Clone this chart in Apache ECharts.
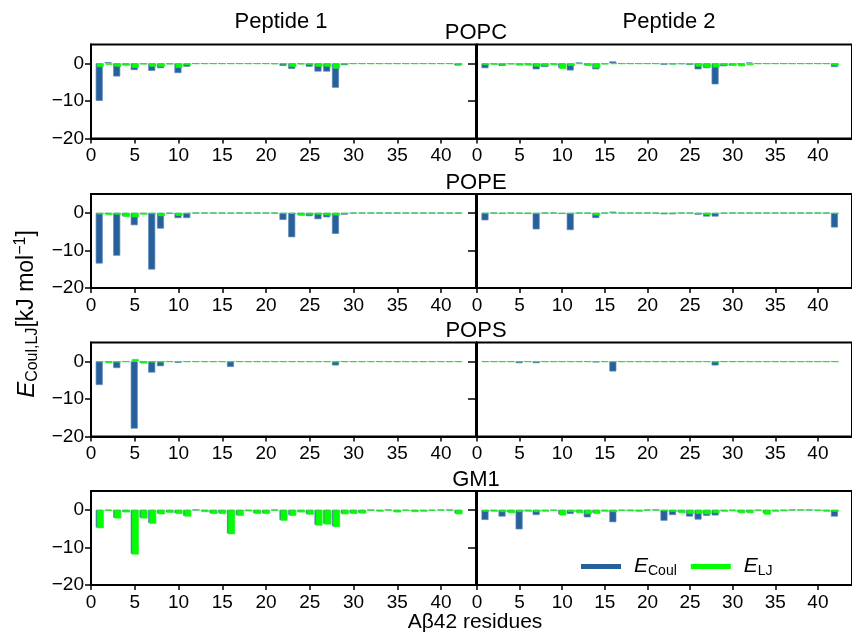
<!DOCTYPE html>
<html><head><meta charset="utf-8">
<script src="https://cdn.jsdelivr.net/npm/echarts@6/dist/echarts.min.js"></script>
<style>html,body{margin:0;padding:0;background:#fff}#c{width:852px;height:639px}</style>
</head><body><div id="c"></div>
<script>
const residues = [1,2,3,4,5,6,7,8,9,10,11,12,13,14,15,16,17,18,19,20,21,22,23,24,25,26,27,28,29,30,31,32,33,34,35,36,37,38,39,40,41,42];
const xTicks = [0,5,10,15,20,25,30,35,40];
const yTicks = [-20,-10,0];
const membranes = ['POPC','POPE','POPS','GM1'];
const peptides = ['Peptide 1','Peptide 2'];
const seriesNames = ['Coul','LJ'];

const popcP1Coul = [-10.0,0.3,-3.5,-0.5,-1.8,-0.2,-2.0,-1.3,-0.2,-2.6,-0.9,-0.1,-0.1,-0.1,-0.1,-0.1,-0.1,-0.1,-0.1,-0.1,-0.2,-0.7,-1.5,-0.2,-0.9,-2.2,-2.2,-6.5,-0.5,-0.1,-0.1,-0.1,-0.1,-0.1,-0.1,-0.1,-0.1,-0.1,-0.1,-0.1,-0.1,-0.6];
const popcP1LJ   = [-1.0,-0.4,-0.9,-0.6,-1.2,-0.3,-0.9,-0.9,-0.3,-1.2,-0.5,-0.2,-0.2,-0.2,-0.2,-0.2,-0.2,-0.2,-0.2,-0.2,-0.2,-0.3,-1.0,-0.3,-0.4,-0.9,-0.9,-1.4,-0.3,-0.2,-0.2,-0.2,-0.2,-0.2,-0.2,-0.2,-0.2,-0.2,-0.2,-0.2,-0.2,-0.4];
const popcP2Coul = [-1.3,-0.2,-0.7,-0.2,-0.4,-0.3,-1.6,-1.0,-0.2,-1.2,-1.9,0.2,-0.5,-1.6,-0.2,0.5,-0.1,-0.1,-0.1,-0.1,-0.1,-0.4,-0.3,-0.2,-0.4,-1.6,-1.3,-5.6,-0.8,-0.6,-0.3,0.2,-0.1,-0.1,-0.1,-0.1,-0.1,-0.1,-0.1,-0.1,-0.1,-1.0];
const popcP2LJ   = [-0.5,-0.4,-0.4,-0.3,-0.6,-0.6,-0.9,-0.7,-0.5,-1.5,-0.7,-0.2,-0.7,-1.3,-0.3,-0.2,-0.2,-0.2,-0.2,-0.2,-0.2,-0.2,-0.3,-0.2,-0.3,-0.9,-1.1,-1.1,-0.6,-0.6,-0.8,-0.5,-0.2,-0.2,-0.2,-0.2,-0.2,-0.2,-0.2,-0.2,-0.2,-0.6];
const popeP1Coul = [-13.5,-0.3,-11.4,-0.9,-3.3,-0.3,-15.1,-4.2,-0.2,-1.4,-1.4,-0.1,-0.1,-0.1,-0.1,-0.2,-0.1,-0.1,-0.1,-0.1,-0.1,-1.9,-6.5,-0.5,-0.9,-1.7,-1.2,-5.6,-0.5,-0.1,-0.1,-0.1,-0.1,-0.1,-0.1,-0.1,-0.1,-0.1,-0.1,-0.1,-0.1,-0.1];
const popeP1LJ   = [-0.4,-0.6,-0.5,-1.1,-1.2,-0.5,-0.3,-0.9,-0.3,-0.8,-0.3,-0.2,-0.2,-0.2,-0.2,-0.2,-0.2,-0.2,-0.2,-0.2,-0.2,-0.3,-0.3,-0.8,-0.5,-0.5,-0.7,-0.7,-0.3,-0.2,-0.2,-0.2,-0.2,-0.2,-0.2,-0.2,-0.2,-0.2,-0.2,-0.2,-0.2,-0.2];
const popeP2Coul = [-2.0,-0.1,-0.3,-0.1,-0.2,-0.3,-4.4,-0.1,-0.1,-0.3,-4.6,-0.1,-0.2,-1.4,-0.1,0.3,-0.1,-0.1,-0.1,-0.1,-0.1,-0.4,-0.4,-0.1,-0.1,-0.5,-1.0,-1.0,-0.2,-0.1,-0.1,-0.1,-0.1,-0.1,-0.1,-0.1,-0.1,-0.1,-0.1,-0.1,-0.1,-3.9];
const popeP2LJ   = [-0.2,-0.2,-0.2,-0.2,-0.2,-0.2,-0.3,-0.2,-0.2,-0.3,-0.3,-0.2,-0.2,-0.7,-0.2,-0.2,-0.2,-0.2,-0.2,-0.2,-0.2,-0.2,-0.2,-0.2,-0.2,-0.3,-0.6,-0.3,-0.2,-0.2,-0.2,-0.2,-0.2,-0.2,-0.2,-0.2,-0.2,-0.2,-0.2,-0.2,-0.2,-0.3];
const popsP1Coul = [-6.3,-0.2,-1.8,-0.1,-17.9,-0.4,-3.0,-1.3,-0.1,-0.4,-0.1,-0.1,-0.1,-0.1,-0.1,-1.5,-0.1,-0.1,-0.1,-0.1,-0.1,-0.1,-0.1,-0.1,-0.1,-0.1,-0.1,-1.1,-0.1,-0.1,-0.1,-0.1,-0.1,-0.1,-0.1,-0.1,-0.1,-0.1,-0.1,-0.1,-0.1,-0.1];
const popsP1LJ   = [-0.2,-0.5,-0.3,-0.2,0.6,-0.6,-0.3,-0.3,-0.2,-0.2,-0.2,-0.2,-0.2,-0.2,-0.2,-0.2,-0.2,-0.2,-0.2,-0.2,-0.2,-0.2,-0.2,-0.2,-0.2,-0.2,-0.2,-0.3,-0.2,-0.2,-0.2,-0.2,-0.2,-0.2,-0.2,-0.2,-0.2,-0.2,-0.2,-0.2,-0.2,-0.2];
const popsP2Coul = [-0.1,-0.1,-0.1,-0.1,-0.5,-0.1,-0.5,-0.1,-0.1,-0.1,-0.1,-0.1,-0.1,-0.3,-0.1,-2.7,-0.1,-0.1,-0.1,-0.1,-0.1,-0.1,-0.1,-0.1,-0.1,-0.1,-0.1,-1.1,-0.1,-0.1,-0.1,-0.1,-0.1,-0.1,-0.1,-0.1,-0.1,-0.1,-0.1,-0.1,-0.1,-0.1];
const popsP2LJ   = [-0.2,-0.2,-0.2,-0.2,-0.2,-0.2,-0.2,-0.2,-0.2,-0.2,-0.2,-0.2,-0.2,-0.2,-0.2,-0.2,-0.2,-0.2,-0.2,-0.2,-0.2,-0.2,-0.2,-0.2,-0.2,-0.2,-0.2,-0.3,-0.2,-0.2,-0.2,-0.2,-0.2,-0.2,-0.2,-0.2,-0.2,-0.2,-0.2,-0.2,-0.2,-0.2];
const gm1P1Coul  = [-4.7,-0.2,-2.1,-0.5,-11.7,-2.1,-3.5,-1.0,-0.6,-0.9,-1.6,-0.1,-0.4,-0.9,-0.9,-6.3,-1.4,-0.3,-0.9,-0.9,-0.1,-2.7,-1.4,-0.5,-1.1,-4.0,-3.7,-4.4,-1.0,-0.9,-0.8,-0.1,-0.3,-0.1,-0.5,-0.2,-0.4,-0.3,-0.2,-0.1,-0.1,-1.0];
const gm1P1LJ    = [-4.9,-0.3,-2.3,-0.7,-11.9,-2.3,-3.7,-1.2,-0.8,-1.1,-1.8,-0.1,-0.6,-1.1,-1.1,-6.5,-1.6,-0.4,-1.1,-1.1,-0.2,-2.9,-1.6,-0.7,-1.3,-4.2,-3.9,-4.6,-1.2,-1.1,-1.0,-0.2,-0.5,-0.2,-0.7,-0.3,-0.6,-0.5,-0.3,-0.2,-0.2,-1.2];
const gm1P2Coul  = [-2.7,-0.3,-1.8,-0.6,-5.2,-0.3,-1.4,-0.3,-0.2,-1.2,-1.1,-0.5,-2.0,-0.8,-0.3,-3.3,-0.2,-0.2,-0.3,-0.1,-0.1,-2.9,-1.4,-0.6,-1.8,-2.6,-1.6,-1.5,-0.3,-0.2,-0.6,-0.6,-0.2,-0.9,-0.3,-0.2,-0.1,-0.1,-0.1,-0.2,-0.3,-1.8];
const gm1P2LJ    = [-0.5,-0.5,-0.6,-0.9,-0.6,-0.5,-0.6,-0.5,-0.3,-1.5,-0.6,-0.9,-1.2,-1.1,-0.5,-0.6,-0.3,-0.4,-0.5,-0.2,-0.1,-0.4,-0.5,-0.9,-1.1,-1.1,-1.2,-0.9,-0.5,-0.4,-0.9,-0.9,-0.3,-1.3,-0.5,-0.4,-0.1,-0.1,-0.1,-0.3,-0.5,-0.5];

const panelData = [
  [[popcP1Coul, popcP1LJ], [popcP2Coul, popcP2LJ]],
  [[popeP1Coul, popeP1LJ], [popeP2Coul, popeP2LJ]],
  [[popsP1Coul, popsP1LJ], [popsP2Coul, popsP2LJ]],
  [[gm1P1Coul, gm1P1LJ], [gm1P2Coul, gm1P2LJ]]
];

const FONT = '"Liberation Sans", Arial, Helvetica, sans-serif';
const BLUE = '#26619c';
const GREEN = '#00ff00';
const rowTops = [44.5, 194, 342.5, 491];
const rowH = 94;
const colLefts = [91, 477];
const colW = 385;

const grid = [], xAxis = [], yAxis = [], series = [];
let idx = 0;
for (let r = 0; r < 4; r++) {
  for (let c = 0; c < 2; c++) {
    grid.push({left: colLefts[c], top: rowTops[r], width: colW, height: rowH,
      show: true, borderColor: '#000', borderWidth: 2, backgroundColor: 'transparent'});
    xAxis.push({type: 'value', gridIndex: idx, min: 0, max: 44,
      axisLine: {show: true, onZero: false, lineStyle: {color: '#000', width: 2}},
      axisTick: {show: true, length: 5, inside: false, customValues: xTicks, lineStyle: {color: '#000', width: 1.5}},
      axisLabel: {show: true, customValues: xTicks, fontSize: 19, fontFamily: FONT, color: '#000', margin: 8},
      splitLine: {show: false}});
    yAxis.push({type: 'value', gridIndex: idx, min: -20, max: 5,
      axisLine: {show: true, onZero: false, lineStyle: {color: '#000', width: 2}},
      axisTick: {show: true, length: c === 0 ? 6 : 9, inside: false, customValues: yTicks, lineStyle: {color: '#000', width: 1.5}},
      axisLabel: {show: c === 0, customValues: yTicks, fontSize: 19, fontFamily: FONT, color: '#000', margin: 7,
        formatter: v => String(v).replace('-', '\u2212')},
      splitLine: {show: false}});
    const pair = panelData[r][c];
    for (let s = 0; s < 2; s++) {
      const col = s === 0 ? BLUE : GREEN;
      series.push({type: 'bar', name: seriesNames[s], xAxisIndex: idx, yAxisIndex: idx,
        barWidth: 7, barGap: '-85%',
        itemStyle: {color: col, borderColor: s === 0 ? '#5b86b5' : '#22ee22', borderWidth: 0.7},
        data: residues.map((res, k) => [res, pair[s][k]])});
    }
    idx++;
  }
}

const graphic = [];
const peptideX = [281, 669];
peptides.forEach((p, i) => graphic.push({type: 'text', x: peptideX[i], y: 22,
  style: {text: p, font: '22px ' + FONT, fill: '#000', align: 'center', verticalAlign: 'middle', textAlign: 'center', textVerticalAlign: 'middle'}}));
membranes.forEach((m, i) => graphic.push({type: 'text', x: 476, y: rowTops[i] - 11.5,
  style: {text: m, font: '22px ' + FONT, fill: '#000', align: 'center', verticalAlign: 'middle', textAlign: 'center', textVerticalAlign: 'middle'}}));
graphic.push({type: 'text', x: 475, y: 622,
  style: {text: 'A\u03b242 residues', font: '21px ' + FONT, fill: '#000', align: 'center', verticalAlign: 'middle', textAlign: 'center', textVerticalAlign: 'middle'}});
graphic.push({type: 'text', x: 27, y: 314, rotation: Math.PI / 2,
  style: {text: '{e|E}{s|Coul,LJ}{n|[kJ mol}{p|\u22121}{n|]}', fill: '#000',
    align: 'center', verticalAlign: 'middle', textAlign: 'center', textVerticalAlign: 'middle',
    rich: {
      e: {fontSize: 24, fontStyle: 'italic', fontFamily: FONT, lineHeight: 28, fill: '#000'},
      s: {fontSize: 16, fontFamily: FONT, lineHeight: 16, verticalAlign: 'bottom', fill: '#000'},
      n: {fontSize: 23, fontFamily: FONT, lineHeight: 28, fill: '#000'},
      p: {fontSize: 16, fontFamily: FONT, lineHeight: 16, verticalAlign: 'top', fill: '#000'}
    }}});

const option = {
  animation: false,
  backgroundColor: '#fff',
  grid, xAxis, yAxis, series, graphic,
  legend: {
    data: seriesNames, left: 576, top: 551, icon: 'rect', itemWidth: 40, itemHeight: 5, itemGap: 14,
    selectedMode: false,
    itemStyle: {borderWidth: 0},
    formatter: n => '{e|E}{s|' + n + '}',
    textStyle: {rich: {
      e: {fontSize: 21, fontStyle: 'italic', fontFamily: FONT, color: '#000', lineHeight: 24, padding: [0, 0, 0, 8]},
      s: {fontSize: 14, fontFamily: FONT, color: '#000', lineHeight: 14, verticalAlign: 'bottom'}
    }}
  }
};
const chart = echarts.init(document.getElementById('c'), null, {renderer: 'canvas'});
chart.setOption(option);
</script></body></html>
